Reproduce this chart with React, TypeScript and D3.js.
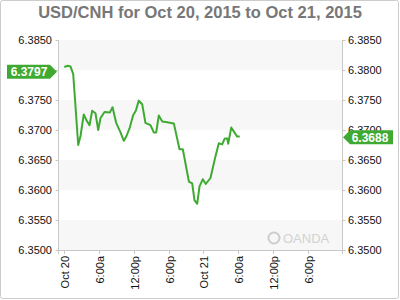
import React from "react";
import * as d3 from "d3";

const title = "USD/CNH for Oct 20, 2015 to Oct 21, 2015";
// hours after Oct 20, 2015 00:00
const hours = [0, 0.6, 1.07, 1.54, 2.4, 2.8, 3.36, 3.83, 4.35, 4.81, 5.38, 5.85, 6.25, 6.94, 7.85, 8.32, 8.95, 9.7, 10.27, 10.73, 11.3, 11.89, 12.34, 12.85, 13.44, 14.0, 14.87, 15.44, 15.86, 16.3, 16.9, 17.75, 18.9, 19.88, 20.45, 21.5, 22.07, 22.46, 22.93, 23.33, 23.9, 24.41, 25.22, 26.08, 26.66, 27.24, 27.69, 28.1, 28.28, 28.8, 29.36, 29.83, 30.28];
const prices = [6.3805, 6.3807, 6.3806, 6.3793, 6.3675, 6.369, 6.3726, 6.3716, 6.3708, 6.3732, 6.3728, 6.37, 6.372, 6.373, 6.3729, 6.3738, 6.3712, 6.3696, 6.3682, 6.369, 6.3704, 6.3725, 6.3732, 6.3749, 6.3743, 6.3712, 6.3708, 6.3696, 6.3696, 6.3724, 6.3714, 6.3713, 6.3711, 6.3668, 6.3668, 6.3614, 6.3611, 6.3583, 6.3577, 6.3606, 6.3618, 6.361, 6.362, 6.3656, 6.3678, 6.3676, 6.3686, 6.3686, 6.3677, 6.3704, 6.3696, 6.3689, 6.3689];
const yTicks = [6.35, 6.355, 6.36, 6.365, 6.37, 6.375, 6.38, 6.385];
const xTickHours = [0, 6, 12, 18, 24, 30, 36, 42];
const xTickLabels = ["Oct 20", "6:00a", "12:00p", "6:00p", "Oct 21", "6:00a", "12:00p", "6:00p"];
const openLabel = 6.3797;
const lastLabel = 6.3688;

const base = new Date(2015, 9, 20, 0, 0).getTime();
const toDate = (h: number) => new Date(base + h * 3600 * 1000);

export default function App() {
  const W = 400, H = 300;
  const left = 58.5, right = 342.5, top = 40, bottom = 250;
  const x = d3.scaleTime().domain([toDate(-1), toDate(48)]).range([left, right]);
  const y = d3.scaleLinear().domain([6.35, 6.385]).range([bottom, top]);
  const data = hours.map((h, i) => ({ d: toDate(h), v: prices[i] }));
  const line = d3.line<{ d: Date; v: number }>().x((p) => x(p.d)).y((p) => y(p.v));
  const green = "#3faa32";
  const font = "'Liberation Sans', Arial, sans-serif";
  const bands = [];
  for (let i = 0; i < yTicks.length - 1; i += 2) {
    bands.push([yTicks[i], yTicks[i + 1]]);
  }
  const yo = y(openLabel);
  const yl = y(lastLabel);
  return (
    <svg width={W} height={H} style={{ position: "absolute", left: 0, top: 0 }} fontFamily={font}>
      <rect x={0.5} y={0.5} width={398} height={298} fill="#fff" stroke="#cccccc" rx={2} />
      <text x={200} y={18} textAnchor="middle" fontSize={16.5} fontWeight="bold" fill="#777">{title}</text>
      {bands.map(([a, b], i) => (
        <rect key={i} x={left} y={y(b)} width={right - left} height={y(a) - y(b)} fill="#f7f7f7" />
      ))}
      <g opacity={0.9}>
        <circle cx={274} cy={238} r={5.5} fill="none" stroke="#c8c8c8" strokeWidth={2} />
        <text x={283} y={243} fontSize={13} fill="#cfcfcf">OANDA</text>
      </g>
      <line x1={left} x2={left} y1={top} y2={bottom + 4} stroke="#c8c8c8" />
      <line x1={right} x2={right} y1={top} y2={bottom + 4} stroke="#c8c8c8" />
      <line x1={left} x2={right} y1={bottom + 0.5} y2={bottom + 0.5} stroke="#c8c8c8" />
      {yTicks.map((t) => (
        <g key={t}>
          <line x1={left - 3} x2={left} y1={Math.round(y(t)) + 0.5} y2={Math.round(y(t)) + 0.5} stroke="#c8c8c8" />
          <line x1={right} x2={right + 3} y1={Math.round(y(t)) + 0.5} y2={Math.round(y(t)) + 0.5} stroke="#c8c8c8" />
          <text x={52} y={y(t) + 4} textAnchor="end" fontSize={11} fill="#111">{t.toFixed(4)}</text>
          <text x={348} y={y(t) + 4} textAnchor="start" fontSize={11} fill="#111">{t.toFixed(4)}</text>
        </g>
      ))}
      {xTickHours.map((h, i) => {
        const xx = Math.round(x(toDate(h))) + 0.5;
        return (
          <g key={i}>
            <line x1={xx} x2={xx} y1={bottom} y2={bottom + 4} stroke="#c8c8c8" />
            <text transform={`translate(${xx + 4},${bottom + 6}) rotate(-90)`} textAnchor="end" fontSize={11} fill="#111">{xTickLabels[i]}</text>
          </g>
        );
      })}
      <path d={line(data) || ""} fill="none" stroke={green} strokeWidth={2} strokeLinejoin="round" />
      <path d={`M7,${yo - 7} L50,${yo - 7} L57,${yo} L50,${yo + 7} L7,${yo + 7} Z`} fill={green} />
      <text x={29} y={yo + 4.5} textAnchor="middle" fontSize={12} fontWeight="bold" fill="#fff">{openLabel.toFixed(4)}</text>
      <path d={`M343,${yl} L350,${yl - 7} L393,${yl - 7} L393,${yl + 7} L350,${yl + 7} Z`} fill={green} />
      <text x={370} y={yl + 4.5} textAnchor="middle" fontSize={12} fontWeight="bold" fill="#fff">{lastLabel.toFixed(4)}</text>
    </svg>
  );
}
